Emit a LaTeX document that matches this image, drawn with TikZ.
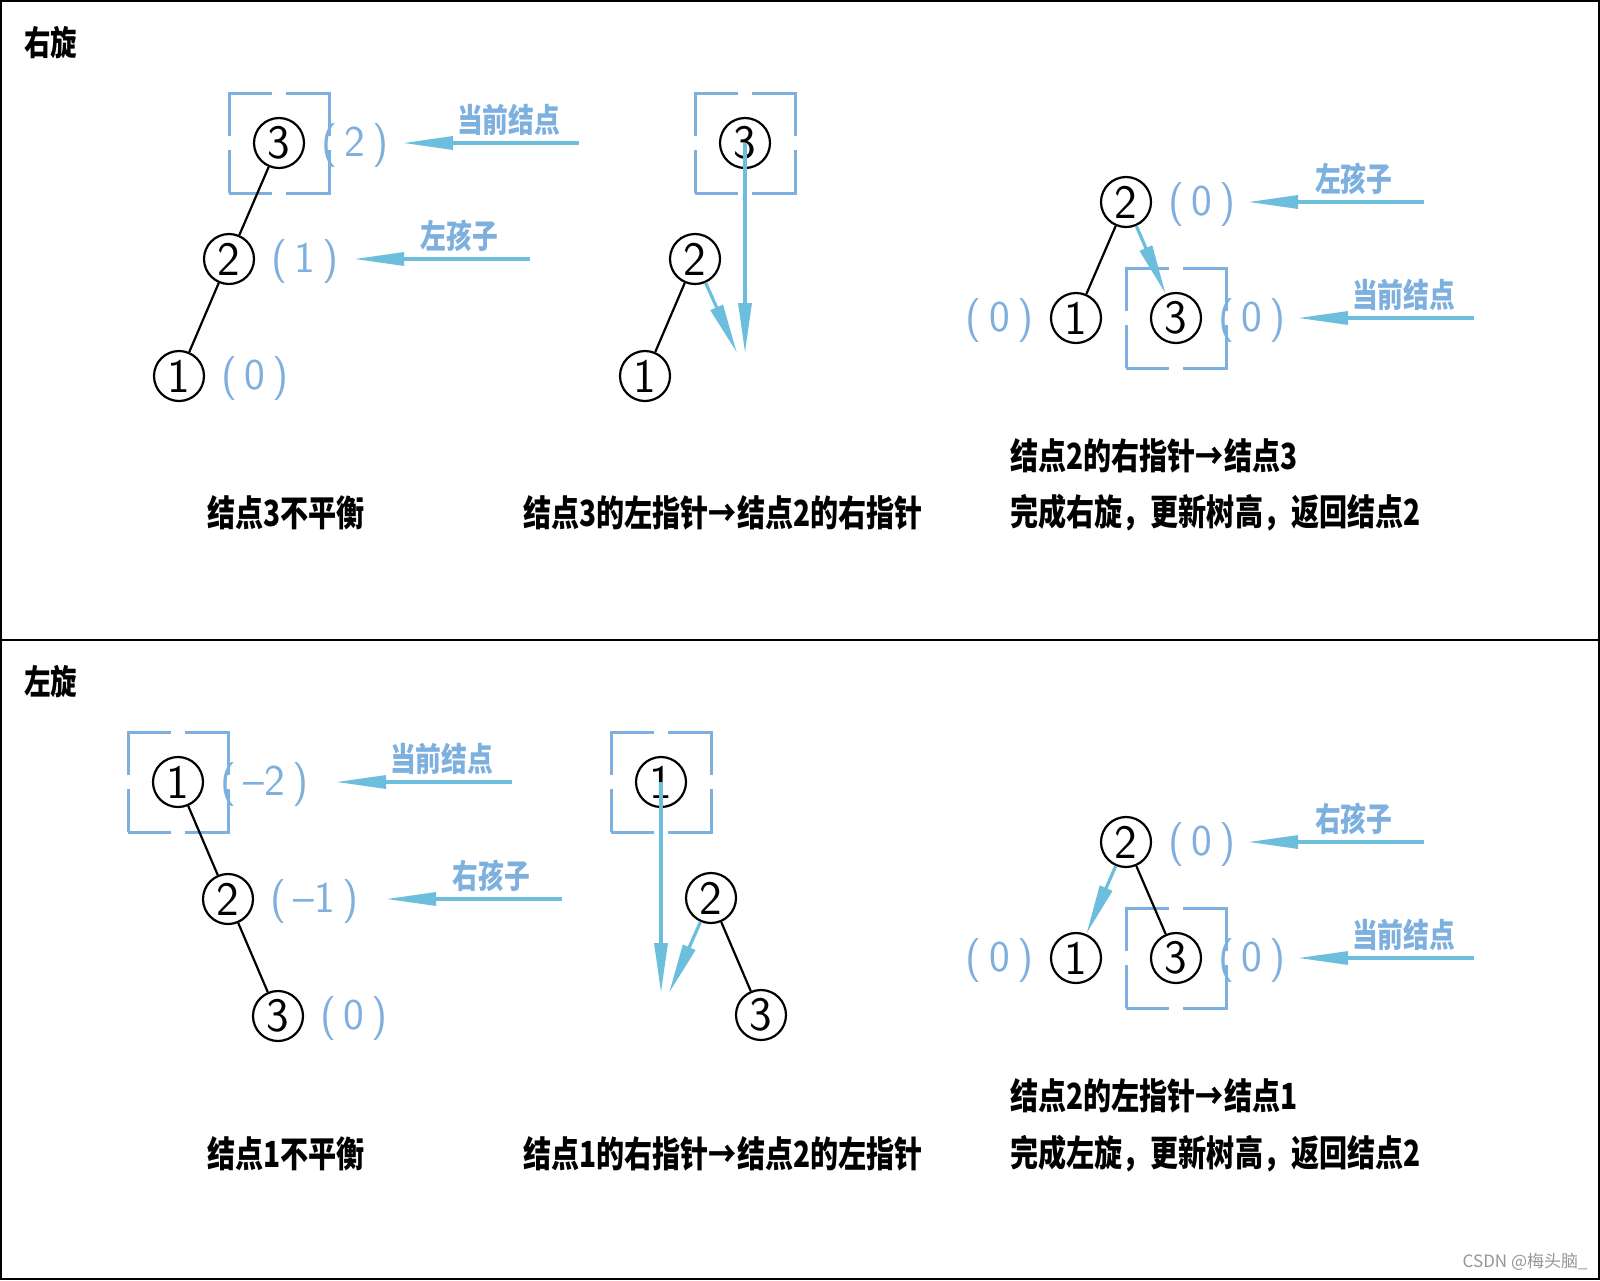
\documentclass[tikz,border=0pt]{standalone}
\usepackage{fontspec}
\usepackage{tikz}
\usetikzlibrary{arrows.meta,positioning,calc}
\newfontfamily\cjk[FakeStretch=0.78]{Noto Sans CJK SC}
\newfontfamily\cjkmark{Noto Sans CJK SC}
\definecolor{avlblue}{RGB}{125,176,222}
\definecolor{avlcyan}{RGB}{108,190,220}
\definecolor{avlgray}{RGB}{150,150,150}

\begin{document}
\begin{tikzpicture}[x=0.5pt, y=-0.5pt, on grid, label distance=4pt,
  vtx/.style={draw, circle, line width=1.1pt, minimum size=25pt, inner sep=0pt, font=\fontsize{24}{24}\sffamily},
  bal/.style={text=avlblue, font=\fontsize{22}{22}\sffamily, inner sep=4pt, yshift=-1.5pt},
  curbox/.style={draw=avlblue, line width=1.5pt, rectangle, minimum size=50pt, inner sep=0pt, dash pattern=on 43pt off 7pt, dash phase=21.5pt},
  link/.style={line width=1.1pt},
  ptr/.style={draw=avlcyan, line width=1.6pt, -{Triangle[length=25pt, width=6.5pt]}},
  ptrtag/.style={text=avlblue, font=\cjk\bfseries\fontsize{16.5}{16.5}\selectfont, inner sep=3pt},
  capt/.style={anchor=west, inner sep=0pt, font=\cjk\bfseries\fontsize{18}{18}\selectfont},
  ttl/.style={anchor=west, inner sep=0pt, font=\cjk\bfseries\fontsize{17}{17}\selectfont},
  outline/.style={line width=1.2pt}]

  \useasboundingbox (0,0) rectangle (1600,1280);
  \draw[outline] (1,1) rectangle (1599,1279);
  \draw[outline] (0,640) -- (1600,640);

  \node[ttl] (right rot) at (24,43) {右旋};
  \node[ttl] (left rot) at (24,682) {左旋};

  \node[vtx, label={[bal]right:(\,2\,)}] (a3) at (279,143) {3};
  \node[vtx, below left=58pt and 25pt of a3, label={[bal]right:(\,1\,)}] (a2) {2};
  \node[vtx, below left=58.5pt and 25pt of a2, label={[bal]right:(\,0\,)}] (a1) {1};
  \node[curbox] (a3box) at (a3) {};
  \draw[link] (a3) -- (a2);
  \draw[link] (a2) -- (a1);
  \coordinate[right=62pt of a3] (a3ptr);
  \coordinate[right=62.5pt of a2] (a2ptr);
  \draw[ptr] ([xshift=88pt]a3ptr) -- (a3ptr) node[ptrtag, pos=.4, above] {当前结点};
  \draw[ptr] ([xshift=88pt]a2ptr) -- (a2ptr) node[ptrtag, pos=.4, above] {左孩子};
  \node[capt] (a cap) at (207,513) {结点3不平衡};

  \node[vtx] (b3) at (745,143) {3};
  \node[vtx, below left=58pt and 25pt of b3] (b2) {2};
  \node[vtx, below left=58.5pt and 25pt of b2] (b1) {1};
  \node[curbox] (b3box) at (b3) {};
  \draw[link] (b2) -- (b1);
  \coordinate[below=105pt of b3] (b3tip);
  \coordinate[below right=47pt and 21pt of b2] (b2tip);
  \draw[ptr] (b3.center) -- (b3tip);
  \draw[ptr] (b2) -- (b2tip);
  \node[capt] (b cap) at (523,513) {结点3的左指针→结点2的右指针};

  \node[vtx, label={[bal]right:(\,0\,)}] (r2) at (1126,202) {2};
  \node[vtx, below left=58pt and 25pt of r2, label={[bal]left:(\,0\,)}] (r1) {1};
  \node[vtx, below right=58pt and 25pt of r2, label={[bal]right:(\,0\,)}] (r3) {3};
  \node[curbox] (r3box) at (r3) {};
  \draw[link] (r2) -- (r1);
  \draw[ptr] (r2) -- (r3);
  \coordinate[right=61pt of r2] (r2ptr);
  \coordinate[right=61pt of r3] (r3ptr);
  \draw[ptr] ([xshift=88pt]r2ptr) -- (r2ptr) node[ptrtag, pos=.4, above] {左孩子};
  \draw[ptr] ([xshift=88pt]r3ptr) -- (r3ptr) node[ptrtag, pos=.4, above] {当前结点};
  \node[capt] (r cap1) at (1010,456) {结点2的右指针→结点3};
  \node[capt] (r cap2) at (1010,513) {完成右旋，更新树高，返回结点2};

  \node[vtx, label={[bal]right:(\,–2\,)}] (c1) at (178,782) {1};
  \node[vtx, below right=58.5pt and 25pt of c1, label={[bal]right:(\,–1\,)}] (c2) {2};
  \node[vtx, below right=58.5pt and 25pt of c2, label={[bal]right:(\,0\,)}] (c3) {3};
  \node[curbox] (c1box) at (c1) {};
  \draw[link] (c1) -- (c2);
  \draw[link] (c2) -- (c3);
  \coordinate[right=79pt of c1] (c1ptr);
  \coordinate[right=79pt of c2] (c2ptr);
  \draw[ptr] ([xshift=88pt]c1ptr) -- (c1ptr) node[ptrtag, pos=.4, above] {当前结点};
  \draw[ptr] ([xshift=88pt]c2ptr) -- (c2ptr) node[ptrtag, pos=.4, above] {右孩子};
  \node[capt] (c cap) at (207,1154) {结点1不平衡};

  \node[vtx] (d1) at (661,782) {1};
  \node[vtx, below right=58pt and 25pt of d1] (d2) {2};
  \node[vtx, below right=58.5pt and 25pt of d2] (d3) {3};
  \node[curbox] (d1box) at (d1) {};
  \draw[link] (d2) -- (d3);
  \coordinate[below=105.5pt of d1] (d1tip);
  \coordinate[below left=47.5pt and 21pt of d2] (d2tip);
  \draw[ptr] (d1.center) -- (d1tip);
  \draw[ptr] (d2) -- (d2tip);
  \node[capt] (d cap) at (523,1154) {结点1的右指针→结点2的左指针};

  \node[vtx, label={[bal]right:(\,0\,)}] (e2) at (1126,842) {2};
  \node[vtx, below left=58pt and 25pt of e2, label={[bal]left:(\,0\,)}] (e1) {1};
  \node[vtx, below right=58pt and 25pt of e2, label={[bal]right:(\,0\,)}] (e3) {3};
  \node[curbox] (e3box) at (e3) {};
  \draw[link] (e2) -- (e3);
  \draw[ptr] (e2) -- (e1);
  \coordinate[right=61pt of e2] (e2ptr);
  \coordinate[right=61pt of e3] (e3ptr);
  \draw[ptr] ([xshift=88pt]e2ptr) -- (e2ptr) node[ptrtag, pos=.4, above] {右孩子};
  \draw[ptr] ([xshift=88pt]e3ptr) -- (e3ptr) node[ptrtag, pos=.4, above] {当前结点};
  \node[capt] (e cap1) at (1010,1096) {结点2的左指针→结点1};
  \node[capt] (e cap2) at (1010,1154) {完成左旋，更新树高，返回结点2};

  \node[anchor=east, inner sep=0pt, text=avlgray, font=\cjkmark\fontsize{8.5}{8.5}\selectfont] (mark) at (1588,1262) {CSDN @梅头脑\_};
\end{tikzpicture}
\end{document}
